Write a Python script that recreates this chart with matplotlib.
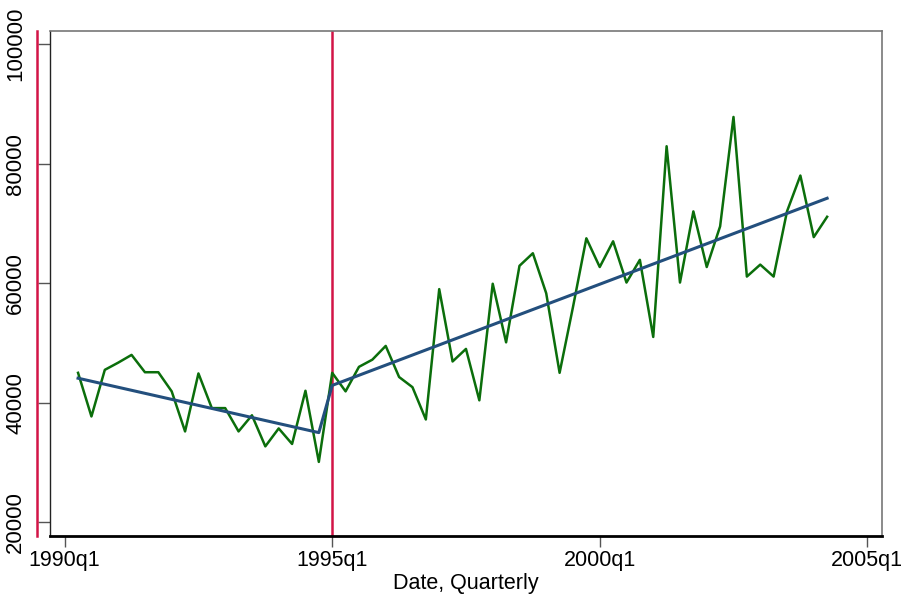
import matplotlib
matplotlib.use("Agg")
import matplotlib.pyplot as plt
from matplotlib.lines import Line2D
import pandas as pd

# ---- data ----
periods = pd.period_range("1990Q2", periods=57, freq="Q")
sales = [45000, 37700, 45500, 46700, 48000, 45100, 45100, 41900, 35200, 44900,
         39100, 39100, 35200, 37900, 32700, 35700, 33100, 42000, 30100, 45000,
         41900, 46000, 47200, 49500, 44300, 42600, 37200, 59000, 46900, 49000,
         40400, 59900, 50100, 62900, 65000, 58300, 45000, 56000, 67500, 62700,
         67000, 60100, 63900, 51000, 82900, 60100, 72000, 62700, 69500, 87800,
         61100, 63100, 61100, 72000, 78000, 67700, 71100]
fit_periods = ["1990Q2", "1994Q4", "1995Q1", "2004Q2"]
fit_values = [44100, 35000, 42900, 74200]
break_period = "1995Q1"
xtick_periods = ["1990Q1", "1995Q1", "2000Q1", "2005Q1"]
xtick_labels = ["1990q1", "1995q1", "2000q1", "2005q1"]
ytick_values = [20000, 40000, 60000, 80000, 100000]
x_label = "Date, Quarterly"


def tq(p):
    p = pd.Period(p, freq="Q")
    return (p.year - 1960) * 4 + p.quarter - 1


x = [tq(p) for p in periods]
fx = [tq(p) for p in fit_periods]

plt.rcParams["font.family"] = ["Liberation Sans", "DejaVu Sans"]

W, H = 904, 597
fig = plt.figure(figsize=(W / 100, H / 100), dpi=100)
left, right, top, bottom = 49.7, 881.7, 30.7, 535.7
ax = fig.add_axes([left / W, 1 - bottom / H, (right - left) / W, (bottom - top) / H])

green = "#0b6e0b"
blue = "#234f7d"
red = "#d21446"

ax.plot(x, sales, color=green, lw=1.8, zorder=3)
ax.plot(fx, fit_values, color=blue, lw=2.2, zorder=4)
ax.axvline(tq(break_period), color=red, lw=1.8, zorder=2)

ax.set_xlim(tq("1990Q1") - 1.12, tq("1990Q1") + 61.08)
ax.set_ylim(17757, 102226)

ax.set_xticks([tq(p) for p in xtick_periods])
ax.set_xticklabels(xtick_labels, fontsize=15.5)
ax.set_yticks(ytick_values)
ax.set_yticklabels([str(v) for v in ytick_values], fontsize=16, rotation=90,
                   va="center")
ax.tick_params(axis="x", length=8, width=1.0, color="#555555", pad=2)
ax.tick_params(axis="y", length=9, width=1.0, color="#555555", pad=8)

for s in ["top", "right"]:
    ax.spines[s].set_color("#777777")
    ax.spines[s].set_linewidth(1.2)
ax.spines["left"].set_color("#222222")
ax.spines["left"].set_linewidth(1.0)
ax.spines["bottom"].set_color("black")
ax.spines["bottom"].set_linewidth(2.0)

ax.set_xlabel(x_label, fontsize=15.5, labelpad=2)

# red axis line on the far left
fig.add_artist(Line2D([37 / W, 37 / W], [1 - top / H, 1 - bottom / H],
                      color=red, lw=1.8))

fig.savefig("out.png", dpi=100)
